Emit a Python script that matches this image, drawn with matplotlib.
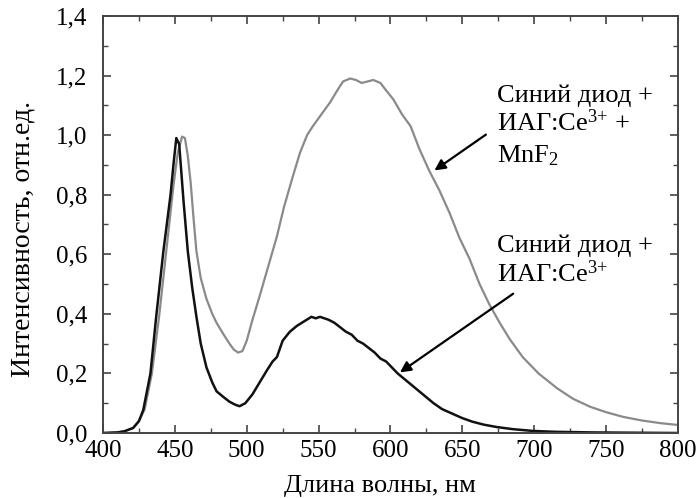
import matplotlib
matplotlib.use('Agg')
import matplotlib.pyplot as plt
from matplotlib.ticker import MultipleLocator, FuncFormatter

# --- spectra (wavelength, nm / relative intensity) ---
wl_yag = [400, 410, 415, 421, 425, 428, 433, 437, 442, 447, 449, 451, 453, 456, 459, 462,
          465, 468, 472, 476, 479, 484, 488, 492, 495, 499, 504, 509, 514, 518, 521, 525,
          530, 535, 540, 545, 548, 551, 554, 557, 561, 565, 569, 573, 577, 581, 585, 589,
          593, 597, 601, 605, 610, 615, 620, 625, 630, 636, 643, 650, 657, 665, 674, 685,
          699, 715, 740, 770, 800]
int_yag = [0.0, 0.002, 0.006, 0.017, 0.04, 0.077, 0.20, 0.39, 0.61, 0.80, 0.90, 0.99, 0.97,
           0.78, 0.61, 0.49, 0.39, 0.30, 0.22, 0.17, 0.14, 0.12, 0.105, 0.095, 0.09, 0.10,
           0.13, 0.17, 0.21, 0.24, 0.255, 0.31, 0.34, 0.36, 0.375, 0.39, 0.385, 0.39, 0.385,
           0.38, 0.37, 0.355, 0.34, 0.33, 0.31, 0.30, 0.285, 0.27, 0.25, 0.24, 0.22, 0.20,
           0.18, 0.16, 0.14, 0.12, 0.10, 0.08, 0.065, 0.05, 0.038, 0.028, 0.02, 0.013, 0.007,
           0.004, 0.002, 0.001, 0.0]

wl_mn = [400, 410, 415, 421, 425, 429, 434, 439, 444, 449, 452, 455, 457, 459, 461, 463,
         465, 468, 472, 476, 479, 484, 488, 491, 494, 497, 500, 504, 509, 515, 521, 526,
         532, 537, 542, 546, 552, 558, 563, 567, 572, 576, 580, 584, 588, 593, 597, 602,
         608, 614, 620, 627, 634, 641, 648, 655, 662, 669, 676, 683, 692, 703, 716, 727,
         739, 750, 762, 775, 788, 800]
int_mn = [0.0, 0.002, 0.006, 0.017, 0.04, 0.08, 0.20, 0.39, 0.61, 0.83, 0.94, 0.995, 0.99,
          0.93, 0.84, 0.72, 0.61, 0.52, 0.45, 0.40, 0.37, 0.33, 0.30, 0.28, 0.27, 0.275,
          0.31, 0.38, 0.46, 0.56, 0.66, 0.76, 0.86, 0.94, 1.0, 1.03, 1.07, 1.11, 1.15, 1.18,
          1.19, 1.185, 1.175, 1.18, 1.185, 1.175, 1.15, 1.12, 1.07, 1.03, 0.955, 0.88, 0.815,
          0.74, 0.655, 0.585, 0.50, 0.43, 0.37, 0.315, 0.255, 0.20, 0.15, 0.115, 0.088, 0.07,
          0.054, 0.042, 0.033, 0.027]

plt.rcParams['font.family'] = ['Liberation Serif', 'DejaVu Serif']
plt.rcParams['mathtext.fontset'] = 'custom'
plt.rcParams['mathtext.rm'] = 'Liberation Serif'
plt.rcParams['mathtext.it'] = 'Liberation Serif:italic'
plt.rcParams['font.size'] = 18

fig = plt.figure(figsize=(6.96, 4.98), dpi=100)
ax = fig.add_axes([0.148, 0.1305, 0.826, 0.8375])

ax.plot(wl_mn, int_mn, color='#8a8a8a', lw=1.6)
ax.plot(wl_yag, int_yag, color='#111111', lw=1.8)

ax.set_xlim(400, 800)
ax.set_ylim(0, 1.4)
ax.xaxis.set_major_locator(MultipleLocator(50))
ax.xaxis.set_minor_locator(MultipleLocator(25))
ax.yaxis.set_major_locator(MultipleLocator(0.2))
ax.yaxis.set_minor_locator(MultipleLocator(0.1))
ax.yaxis.set_major_formatter(FuncFormatter(lambda v, p: f"{v:.1f}".replace('.', ',')))
ax.tick_params(which='both', direction='in', top=True, right=True, color='#444444')
ax.tick_params(which='major', length=6, width=1.2)
ax.tick_params(which='minor', length=3.5, width=1.0)
ax.tick_params(axis='x', which='major', pad=5)
ax.tick_params(axis='y', which='major', pad=11)
for s in ax.spines.values():
    s.set_linewidth(1.4)
    s.set_color('#444444')

fig.text(380 / 696, 0.012, 'Длина волны, нм', ha='center', va='baseline', fontsize=19)
fig.text(23 / 696, 1 - 239 / 498, 'Интенсивность, отн.ед.', rotation=90,
         ha='center', va='center', fontsize=20)

# annotations
ann = dict(fontsize=19, va='baseline')
ax.text(674, 1.111, 'Синий диод +', **ann)
ax.text(674, 1.014, 'ИАГ:Ce$^{3{+}}$ +', **ann)
ax.text(674, 0.910, 'MnF$_2$', **ann)
ax.annotate('', xy=(629, 0.876), xytext=(668, 1.007),
            arrowprops=dict(arrowstyle='-|>', color='black', lw=1.6, mutation_scale=16))

ax.text(674, 0.608, 'Синий диод +', **ann)
ax.text(674, 0.507, 'ИАГ:Ce$^{3{+}}$', **ann)
ax.annotate('', xy=(605, 0.198), xytext=(687, 0.473),
            arrowprops=dict(arrowstyle='-|>', color='black', lw=1.6, mutation_scale=16))

fig.savefig('out.png', dpi=100)
